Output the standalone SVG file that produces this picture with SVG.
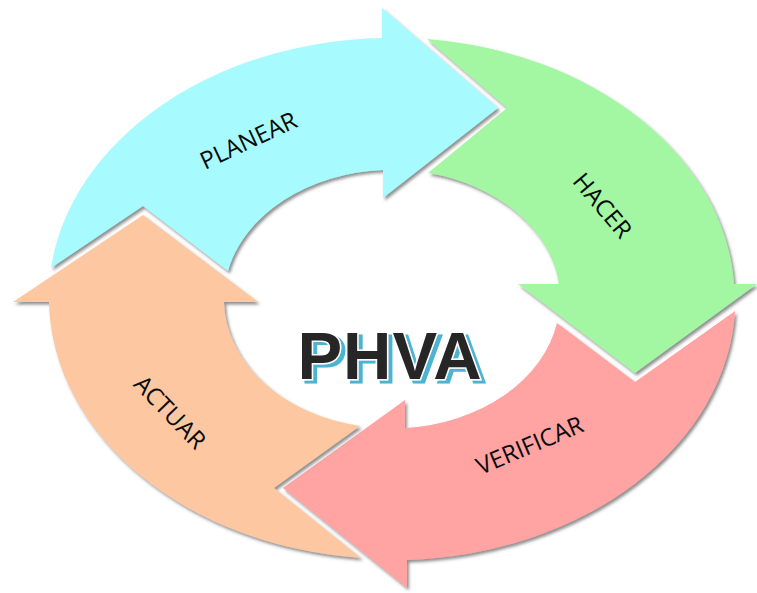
<svg xmlns="http://www.w3.org/2000/svg" width="757" height="593" viewBox="0 0 757 593">
  <style>
    .lbl { font-family: "Open Sans", "Liberation Sans", sans-serif; font-size: 24px; fill: #0a0a0a; text-anchor: middle; }
    .arrow { filter: url(#shadow); }
    .title { font-family: "Liberation Sans", Arial, sans-serif; font-weight: bold; font-size: 67px; text-anchor: middle; letter-spacing: 1px; }
  </style>
  <defs>
    <filter id="shadow" x="-10%" y="-10%" width="120%" height="120%">
      <feDropShadow dx="2" dy="2.5" stdDeviation="1.6" flood-color="#444444" flood-opacity="0.6"/>
    </filter>
    <filter id="blueShadow" x="-10%" y="-20%" width="120%" height="140%">
      <feOffset in="SourceAlpha" dx="4" dy="3" result="off"/>
      <feFlood flood-color="#4cb4d0" result="blue"/>
      <feComposite in="blue" in2="off" operator="in" result="blueShape"/>
      <feMerge>
        <feMergeNode in="blueShape"/>
        <feMergeNode in="SourceGraphic"/>
      </feMerge>
    </filter>
  </defs>
  <rect width="757" height="593" fill="#ffffff"/>

  <g id="verificar">
    <path class="arrow" fill="#ffa3a3" d="M 735,311 A 343,261 0 0 1 407,560 L 407,588 L 283,488 L 405,400 L 405,428 A 168,129 0 0 0 557,323 L 635,382 Z"/>
    <text class="lbl" transform="translate(533,453) rotate(-23)">VERIFICAR</text>
  </g>

  <g id="actuar">
    <path class="arrow" fill="#fdc7a1" d="M 361,558 A 343,261 0 0 1 49,302 L 13,302 L 143,215 L 258,302 L 224,302 A 168,129 0 0 0 360,426 L 274,488 Z"/>
    <text class="lbl" transform="translate(164,418) rotate(46)">ACTUAR</text>
  </g>

  <g id="hacer">
    <path class="arrow" fill="#a3f7a3" d="M 427,39 A 343,261 0 0 1 734,284 L 757,284 L 635,373 L 518,284 L 559,284 A 168,129 0 0 0 428,173 L 507,108 Z"/>
    <text class="lbl" transform="translate(596,211) rotate(50)">HACER</text>
  </g>

  <g id="planear">
    <path class="arrow" fill="#a7fbfe" d="M 51,268 A 343,261 0 0 1 382,38 L 382,8 L 498,108 L 383,198 L 383,170 A 168,129 0 0 0 228,271 L 143,206 Z"/>
    <text class="lbl" transform="translate(252,148) rotate(-25)">PLANEAR</text>
  </g>

  <g id="phva">
    <text class="title" x="390" y="379" fill="#262626" stroke="#ffffff" stroke-width="3" paint-order="stroke" filter="url(#blueShadow)">PHVA</text>
  </g>
</svg>
